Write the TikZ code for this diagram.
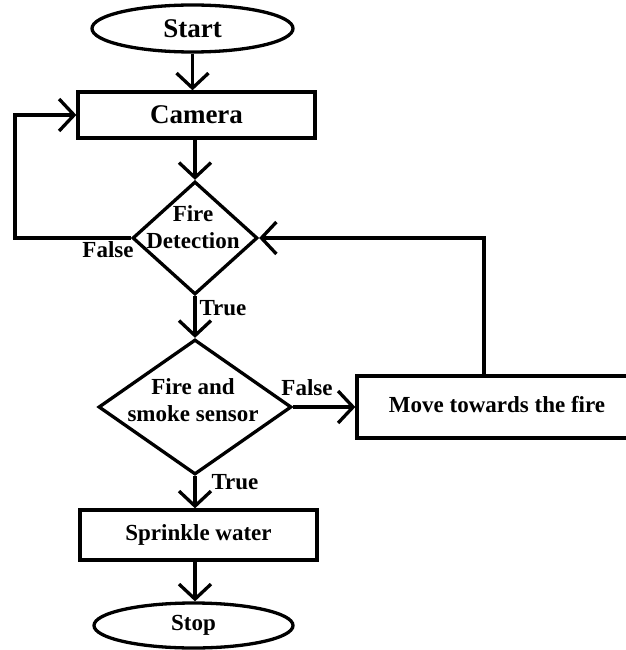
\documentclass[tikz,border=0pt]{standalone}
\usepackage{fontspec}
\setmainfont{Liberation Serif}
\usetikzlibrary{shapes.geometric,arrows.meta}
\begin{document}
\begin{tikzpicture}[x=1pt,y=-1pt,
  every node/.style={inner sep=0pt},
  big/.style={font=\fontsize{27}{30}\selectfont\bfseries},
  txt/.style={font=\fontsize{23}{27}\selectfont\bfseries, align=center},
  box/.style={draw, line width=3.3pt, rectangle},
  oval/.style={draw, line width=3.3pt, ellipse},
  dia/.style={draw, line width=3.3pt, diamond},
  arr/.style={line width=3.3pt, -{Straight Barb[length=15pt,width=32pt]}},
  ln/.style={line width=3.3pt}]
\useasboundingbox (0,0) rectangle (625,650);
\node[oval, big, minimum width=201pt, minimum height=47pt] (start) at (192.5,28.5) {Start};
\node[box, big, minimum width=237pt, minimum height=46pt] (camera) at (196.5,115) {Camera};
\node[dia, minimum width=125pt, minimum height=113pt] (d1) at (195,238) {};
\node[txt] (d1t) at (193,227) {Fire\\Detection};
\node[dia, minimum width=193pt, minimum height=135pt] (d2) at (195,407) {};
\node[txt] (d2t) at (193,400) {Fire and\\smoke sensor};
\node[box, txt, minimum width=280pt, minimum height=62pt] (move) at (497,407) {};
\node[txt] (movet) at (497,405) {Move towards the fire};
\node[box, txt, minimum width=237pt, minimum height=50pt] (sprinkle) at (198.5,535) {Sprinkle water};
\node[oval, txt, minimum width=199pt, minimum height=45pt] (stop) at (193.5,625.5) {Stop};
\node[txt] (f1) at (108,250) {False};
\node[txt] (t1) at (223,308) {True};
\node[txt] (f2) at (307,388) {False};
\node[txt] (t2) at (235,482) {True};
\coordinate (lp) at (15,115);
\coordinate (mt) at (484,238);
\draw[arr] (start.south) -- (start.south |- camera.north);
\draw[arr] (d1.north |- camera.south) -- (d1.north);
\draw[arr] (d1.west) -- (d1.west -| lp) -- (lp) -- (camera.west);
\draw[arr] (d1.south) -- (d2.north);
\draw[arr] (d2.east) -- (move.west);
\draw[arr] (mt |- move.north) -- (mt) -- (d1.east);
\draw[arr] (d2.south) -- (d2.south |- sprinkle.north);
\draw[arr] (d2.south |- sprinkle.south) -- (d2.south |- stop.north);
\end{tikzpicture}
\end{document}
